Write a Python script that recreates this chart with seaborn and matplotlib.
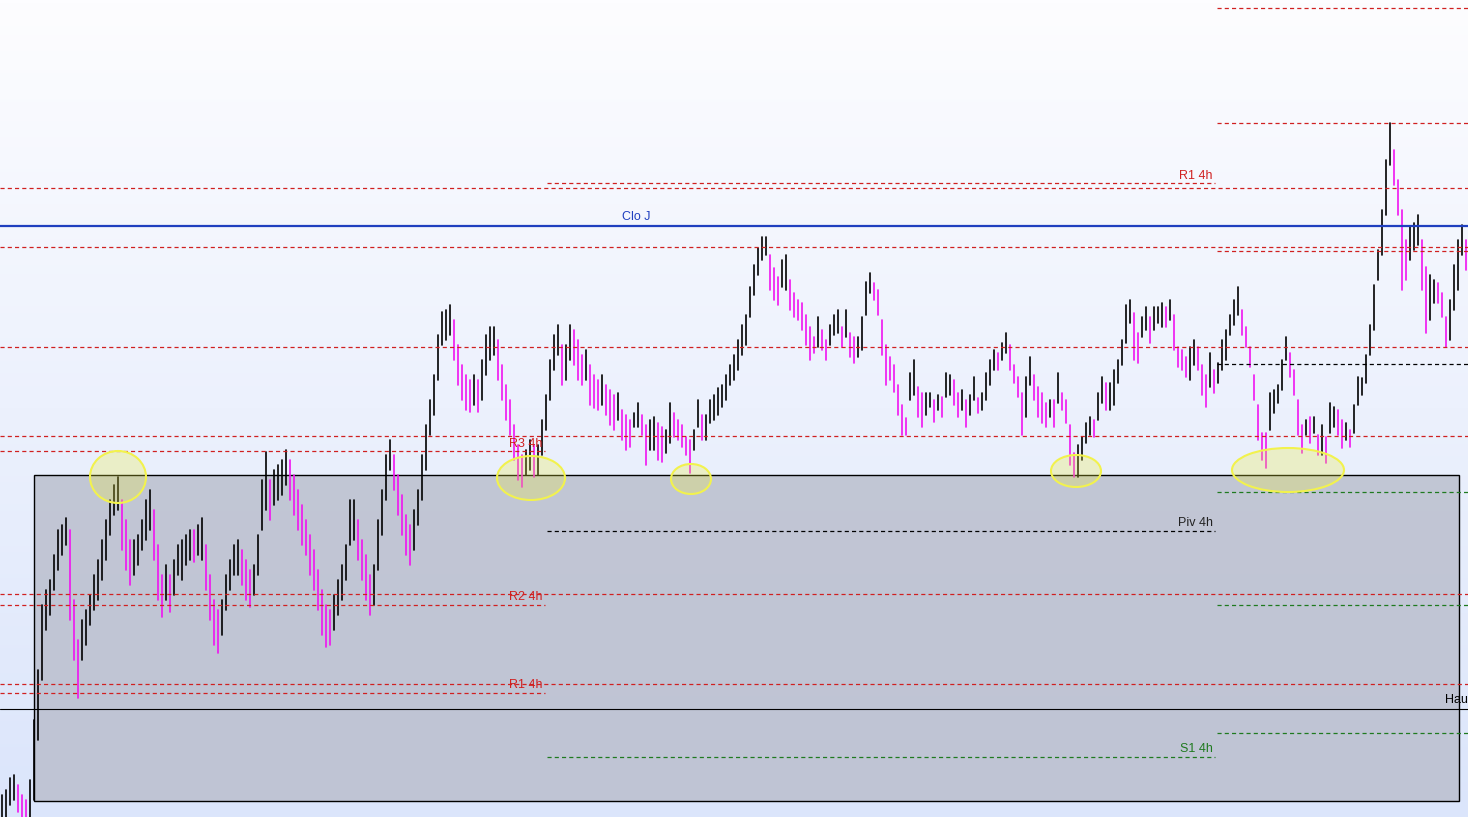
import numpy as np
import pandas as pd
import matplotlib
matplotlib.use("Agg")
import matplotlib.pyplot as plt
from matplotlib.colors import LinearSegmentedColormap, to_rgba
from matplotlib.patches import Rectangle, Ellipse
import seaborn as sns

# Levels are read in chart rows (0 = top of the chart), y axis is inverted
highs = [
    795, 790, 778, 775, 785, 795, 800, 780, 720, 670,
    605, 590, 580, 555, 530, 525, 518, 530, 600, 640,
    620, 610, 595, 575, 560, 540, 520, 500, 485, 477,
    500, 520, 540, 540, 535, 520, 500, 490, 510, 545,
    575, 565, 575, 560, 545, 540, 535, 530, 530, 525,
    518, 545, 575, 600, 610, 600, 575, 560, 545, 540,
    550, 560, 570, 565, 535, 480, 452, 480, 470, 465,
    460, 450, 460, 475, 490, 505, 520, 535, 550, 570,
    590, 605, 610, 595, 580, 565, 545, 500, 500, 520,
    540, 555, 575, 565, 520, 490, 455, 440, 455, 475,
    495, 515, 525, 510, 490, 455, 425, 400, 375, 335,
    312, 310, 305, 320, 345, 365, 375, 380, 375, 380,
    360, 335, 327, 327, 340, 365, 385, 400, 425, 445,
    455, 450, 440, 445, 445, 420, 395, 360, 335, 325,
    345, 345, 325, 330, 340, 355, 350, 365, 375, 380,
    375, 385, 390, 395, 393, 410, 415, 420, 413, 403,
    415, 425, 420, 417, 423, 427, 430, 403, 413, 420,
    425, 437, 440, 430, 400, 415, 415, 400, 395, 388,
    385, 375, 365, 355, 340, 325, 315, 287, 265, 248,
    237, 237, 255, 268, 277, 260, 255, 280, 293, 300,
    303, 315, 327, 337, 317, 330, 340, 325, 315, 310,
    327, 310, 333, 337, 337, 317, 282, 273, 283, 290,
    320, 345, 357, 365, 385, 405, 418, 373, 360, 387,
    393, 393, 393, 400, 395, 397, 373, 375, 380, 393,
    390, 400, 395, 377, 398, 393, 373, 360, 350, 353,
    343, 333, 345, 365, 377, 393, 377, 357, 375, 387,
    393, 403, 400, 400, 373, 393, 400, 425, 453, 445,
    437, 423, 417, 420, 393, 377, 383, 383, 370, 360,
    340, 305, 300, 313, 333, 317, 307, 317, 307, 307,
    303, 307, 300, 315, 347, 350, 357, 347, 340, 347,
    365, 375, 353, 370, 363, 340, 330, 315, 300, 287,
    310, 327, 347, 375, 405, 433, 433, 393, 390, 385,
    360, 337, 353, 370, 400, 425, 420, 417, 417, 435,
    425, 437, 403, 407, 410, 420, 423, 430, 405, 377,
    378, 355, 325, 285, 250, 210, 160, 123, 150, 180,
    210, 240, 227, 223, 215, 240, 267, 275, 280, 283,
    293, 317, 300, 265, 240, 225, 240,
]
lows = [
    817, 817, 805, 800, 812, 817, 817, 817, 800, 740,
    680, 630, 615, 590, 570, 555, 545, 620, 660, 698,
    660, 645, 625, 610, 600, 580, 560, 535, 515, 510,
    550, 570, 585, 575, 565, 550, 540, 530, 560, 600,
    617, 600, 612, 595, 575, 580, 565, 560, 562, 555,
    560, 590, 620, 645, 653, 635, 610, 590, 575, 575,
    585, 600, 607, 595, 575, 530, 510, 520, 505, 500,
    495, 485, 500, 515, 530, 545, 555, 575, 590, 610,
    635, 647, 645, 630, 615, 600, 580, 545, 540, 560,
    580, 600, 615, 605, 570, 535, 500, 470, 490, 515,
    535, 555, 565, 550, 525, 500, 470, 435, 415, 380,
    345, 340, 335, 360, 385, 400, 410, 412, 405, 412,
    400, 375, 360, 355, 380, 400, 420, 435, 460, 480,
    487, 475, 470, 477, 475, 455, 430, 400, 370, 355,
    385, 380, 360, 365, 380, 385, 380, 405, 408, 410,
    405, 415, 425, 430, 420, 440, 450, 447, 427, 427,
    435, 465, 450, 450, 460, 462, 453, 443, 437, 440,
    447, 455, 473, 450, 427, 440, 440, 423, 420, 415,
    407, 400, 385, 380, 370, 355, 345, 317, 295, 275,
    260, 255, 290, 300, 305, 287, 290, 310, 317, 320,
    330, 345, 360, 353, 347, 350, 360, 345, 335, 333,
    347, 337, 357, 363, 357, 350, 315, 293, 300, 315,
    355, 385, 380, 392, 415, 435, 435, 400, 395, 417,
    427, 415, 407, 422, 410, 417, 397, 395, 405, 417,
    410, 427, 415, 400, 413, 410, 400, 385, 370, 370,
    360, 353, 370, 383, 397, 435, 417, 385, 400, 417,
    423, 427, 417, 427, 403, 410, 423, 465, 477, 477,
    460, 443, 435, 437, 420, 403, 410, 410, 405, 383,
    365, 343, 323, 360, 363, 337, 330, 343, 330, 323,
    327, 327, 320, 350, 367, 370, 377, 380, 365, 370,
    395, 407, 387, 393, 383, 370, 360, 335, 325, 315,
    335, 347, 367, 400, 440, 460, 468, 430, 413, 403,
    390, 360, 377, 395, 435, 453, 435, 443, 433, 455,
    455, 463, 433, 427, 435, 448, 440, 447, 433, 405,
    395, 383, 355, 330, 280, 255, 215, 165, 185, 215,
    290, 280, 260, 250, 245, 290, 333, 320, 303, 303,
    317, 347, 340, 310, 290, 255, 270,
]

# daily levels (whole chart)
day_pivots = [188, 247, 347, 436, 594, 684]
day_close = 226
day_high = 709

# 4h pivot sets for the three periods on screen (start bar, end bar)
periods = [(-0.5, 135.75), (136.25, 303.25), (303.75, 366.5)]
res_4h = [[451, 605, 693], [183], [8, 123, 251]]
piv_4h = [[], [531], [364]]
sup_4h = [[], [757], [492, 605, 733]]
labels_4h = [
    (0, 451, "R3 4h", "#d02020"),
    (0, 605, "R2 4h", "#d02020"),
    (0, 693, "R1 4h", "#d02020"),
    (1, 183, "R1 4h", "#d02020"),
    (1, 531, "Piv 4h", "#222222"),
    (1, 757, "S1 4h", "#1f7a1f"),
]

# support zone and marked touches (bar, level, width in bars, height)
zone_bars = (8.0, 364.25)
zone_levels = (475, 801)
touches = [
    (29.0, 477, 14.0, 52),
    (132.25, 478, 17.0, 44),
    (172.25, 479, 10.0, 30),
    (268.5, 471, 12.5, 32),
    (321.5, 470, 28.0, 44),
]

red = "#d02020"
green = "#1f7a1f"
dash = (0, (3.3, 2.5))

sns.set_theme(style="white")
plt.rcParams["font.family"] = ["Liberation Sans", "DejaVu Sans"]

fig = plt.figure(figsize=(14.68, 8.17), dpi=100)
ax = fig.add_axes([0, 0, 1, 1])
x0, x1 = -0.5, len(highs) - 0.5

# background gradient
bg = LinearSegmentedColormap.from_list("bg", ["#fdfdff", "#dbe5fb"])
ax.imshow(np.linspace(0, 1, 256)[:, None], extent=[x0, x1, 817, 0],
          cmap=bg, aspect="auto", zorder=0)

ax.add_patch(Rectangle((zone_bars[0], zone_levels[0]), zone_bars[1] - zone_bars[0],
                       zone_levels[1] - zone_levels[0],
                       facecolor=to_rgba("#b8bccb", 0.8), edgecolor="black",
                       lw=1, zorder=1))

# bars
bars = pd.DataFrame({"bar": np.arange(len(highs)), "high": highs, "low": lows})
mid = (bars["high"] + bars["low"]) / 2
bars["dir"] = np.where(mid.diff().fillna(-1) > 0, "down", "up")
long = bars.melt(id_vars=["bar", "dir"], value_vars=["high", "low"], value_name="level")
sns.lineplot(data=long, x="bar", y="level", units="bar", estimator=None, hue="dir",
             palette={"up": "black", "down": "#f014f0"}, lw=1.2, legend=False,
             ax=ax, zorder=4)

# daily lines
ax.hlines(day_pivots, x0, x1, colors=red, lw=0.9, linestyles=dash, zorder=6)
ax.axhline(day_close, color="#1f3fbf", lw=1.6, zorder=6)
ax.axhline(day_high, color="black", lw=0.8, zorder=6)
ax.text(158.5, day_close - 3, "Clo J", color="#1f3fbf", fontsize=9,
        ha="center", va="bottom", zorder=7)
ax.text(360.8, day_high - 3, "Hau", color="black", fontsize=9,
        ha="left", va="bottom", zorder=7)

# 4h lines
for (a, b), rs, ps, ss in zip(periods, res_4h, piv_4h, sup_4h):
    if rs:
        ax.hlines(rs, a, b, colors=red, lw=0.9, linestyles=dash, zorder=6)
    if ps:
        ax.hlines(ps, a, b, colors="black", lw=0.9, linestyles=dash, zorder=6)
    if ss:
        ax.hlines(ss, a, b, colors=green, lw=0.9, linestyles=dash, zorder=6)

for p, lvl, txt, col in labels_4h:
    ax.text(periods[p][1] - 0.6, lvl - 1.5, txt, color=col, fontsize=9,
            ha="right", va="bottom", zorder=7)

for bx, lvl, w, h in touches:
    ax.add_patch(Ellipse((bx, lvl), w, h, facecolor=(0.93, 0.93, 0.25, 0.28),
                         edgecolor=(0.95, 0.95, 0.3), lw=1.5, zorder=8))

ax.set_xlim(x0, x1)
ax.set_ylim(817, 0)
ax.axis("off")

fig.savefig("out.png", dpi=100)
